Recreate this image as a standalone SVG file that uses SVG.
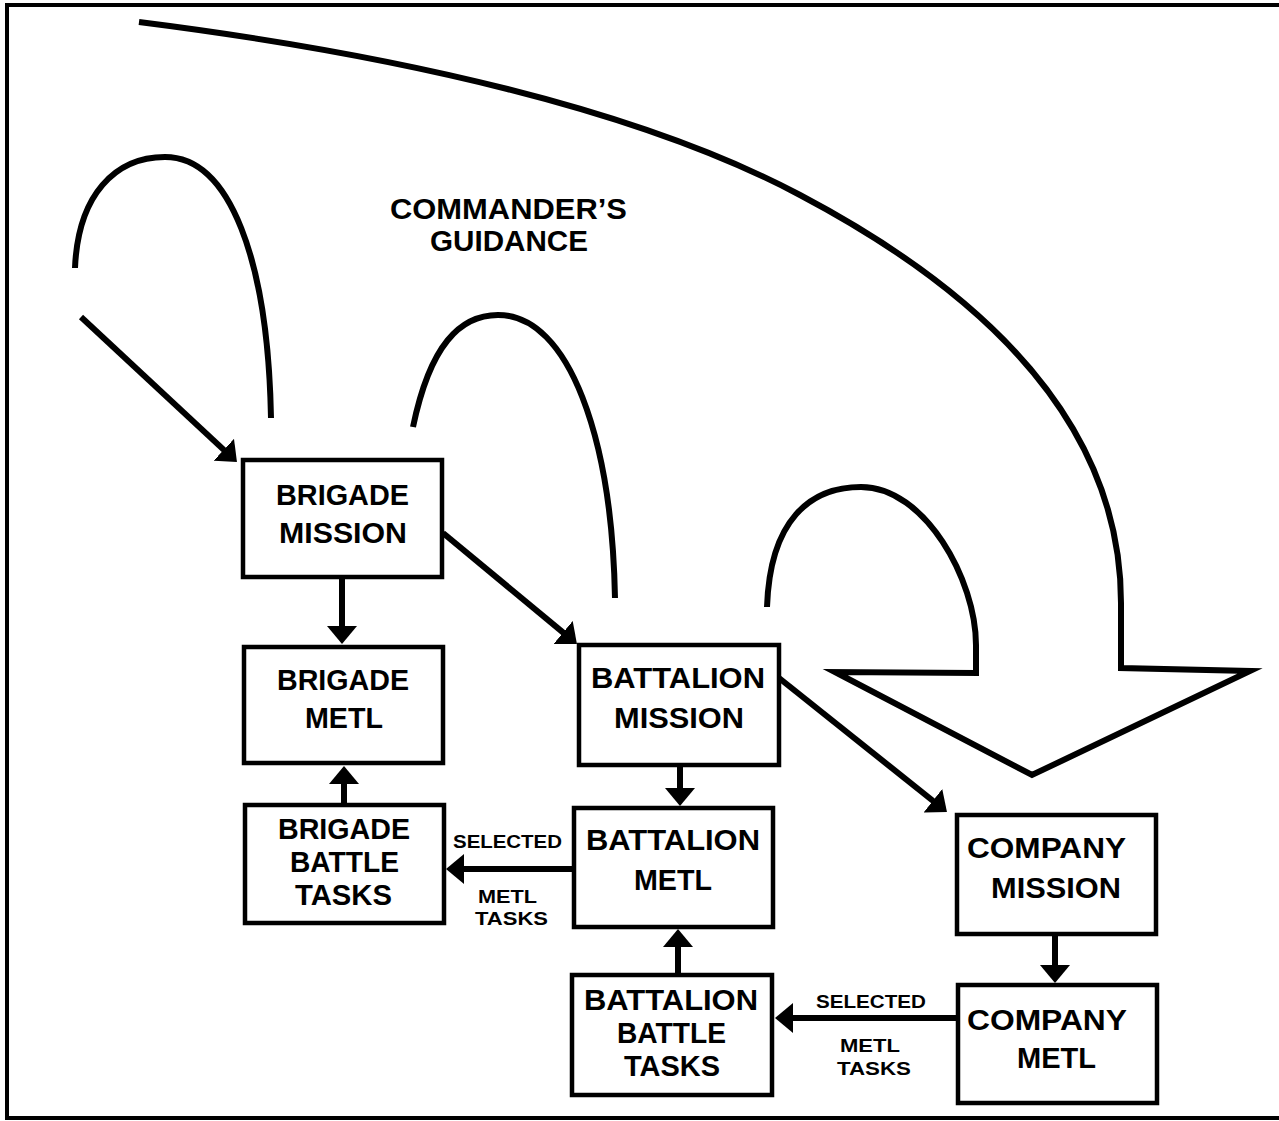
<svg xmlns="http://www.w3.org/2000/svg" width="1279" height="1121" viewBox="0 0 1279 1121">
<style>
.bg{fill:#fff}
.frame{fill:none;stroke:#000;stroke-width:4}
.box{fill:#fff;stroke:#000;stroke-width:4.5}
.cv{fill:none;stroke:#000;stroke-width:6;stroke-linejoin:miter;stroke-miterlimit:10}
.ln{fill:none;stroke:#000;stroke-width:6;marker-end:url(#ah)}
text{font-family:"Liberation Sans","Open Sans",sans-serif;font-weight:700;fill:#000;text-anchor:middle}
.t{font-size:29px}
.s{font-size:18.5px}
</style>
<defs>
<marker id="ah" markerUnits="userSpaceOnUse" markerWidth="18" markerHeight="30" refX="10" refY="15" orient="auto" viewBox="0 0 18 30">
<path d="M0,0 L18,15 L0,30 z" fill="#000"/>
</marker>
</defs>
<rect class="bg" x="0" y="0" width="1279" height="1121"/>
<path class="frame" d="M1279,5 L7,5 L7,1118 L1279,1118"/>

<g id="guidance-arcs">
<path class="cv" d="M75,268 C78,195 115,157 165,157 C230,157 268,260 271,418"/>
<path class="cv" d="M413,427 C430,345 460,315 498,315 C570,315 612,440 615,598"/>
<path class="cv" d="M139,22 C400,55 640,110 800,195 C980,290 1121,420 1121,603 L1121,668 L1250,671 L1032,775 L835,672 L976,673 L976,645 C976,580 925,487 861,487 C810,487 770,520 767,607"/>
</g>
<g id="guidance-label">
<text class="t" x="508.5" y="219" textLength="237" lengthAdjust="spacingAndGlyphs">COMMANDER’S</text>
<text class="t" x="509" y="251" textLength="158" lengthAdjust="spacingAndGlyphs">GUIDANCE</text>
</g>

<g id="connectors">
<line class="ln" x1="81" y1="317" x2="231.1" y2="456.6"/>
<line class="ln" x1="443" y1="533" x2="570.8" y2="638.9"/>
<line class="ln" x1="779" y1="678" x2="940.7" y2="807"/>
<line class="ln" x1="342" y1="579" x2="342" y2="636"/>
<line class="ln" x1="344" y1="803" x2="344" y2="774"/>
<line class="ln" x1="680" y1="765" x2="680" y2="798"/>
<line class="ln" x1="678" y1="973" x2="678" y2="937"/>
<line class="ln" x1="1055" y1="935" x2="1055" y2="975"/>
<line class="ln" x1="574" y1="869" x2="454" y2="869"/>
<line class="ln" x1="956" y1="1018" x2="783" y2="1018"/>
<text class="s" x="507.5" y="848" textLength="109" lengthAdjust="spacingAndGlyphs">SELECTED</text>
<text class="s" x="507.5" y="903" textLength="59" lengthAdjust="spacingAndGlyphs">METL</text>
<text class="s" x="511.5" y="925" textLength="73" lengthAdjust="spacingAndGlyphs">TASKS</text>
<text class="s" x="871" y="1008" textLength="110" lengthAdjust="spacingAndGlyphs">SELECTED</text>
<text class="s" x="870" y="1052" textLength="60" lengthAdjust="spacingAndGlyphs">METL</text>
<text class="s" x="874" y="1075" textLength="74" lengthAdjust="spacingAndGlyphs">TASKS</text>
</g>

<g id="brigade-mission">
<rect class="box" x="243" y="460" width="199" height="117"/>
<text class="t" x="342.5" y="505" textLength="133" lengthAdjust="spacingAndGlyphs">BRIGADE</text>
<text class="t" x="343" y="543" textLength="128" lengthAdjust="spacingAndGlyphs">MISSION</text>
</g>
<g id="brigade-metl">
<rect class="box" x="244" y="647" width="199" height="116"/>
<text class="t" x="343" y="690" textLength="132" lengthAdjust="spacingAndGlyphs">BRIGADE</text>
<text class="t" x="344" y="728" textLength="78" lengthAdjust="spacingAndGlyphs">METL</text>
</g>
<g id="brigade-battle-tasks">
<rect class="box" x="245" y="805" width="199" height="118"/>
<text class="t" x="344" y="839" textLength="132" lengthAdjust="spacingAndGlyphs">BRIGADE</text>
<text class="t" x="344.5" y="872" textLength="109" lengthAdjust="spacingAndGlyphs">BATTLE</text>
<text class="t" x="343.5" y="905" textLength="97" lengthAdjust="spacingAndGlyphs">TASKS</text>
</g>
<g id="battalion-mission">
<rect class="box" x="579" y="645" width="200" height="120"/>
<text class="t" x="678" y="688" textLength="174" lengthAdjust="spacingAndGlyphs">BATTALION</text>
<text class="t" x="679" y="728" textLength="130" lengthAdjust="spacingAndGlyphs">MISSION</text>
</g>
<g id="battalion-metl">
<rect class="box" x="574" y="808" width="199" height="119"/>
<text class="t" x="673" y="850" textLength="174" lengthAdjust="spacingAndGlyphs">BATTALION</text>
<text class="t" x="673" y="890" textLength="78" lengthAdjust="spacingAndGlyphs">METL</text>
</g>
<g id="battalion-battle-tasks">
<rect class="box" x="572" y="975" width="200" height="120"/>
<text class="t" x="671" y="1010" textLength="174" lengthAdjust="spacingAndGlyphs">BATTALION</text>
<text class="t" x="671.5" y="1043" textLength="109" lengthAdjust="spacingAndGlyphs">BATTLE</text>
<text class="t" x="672" y="1076" textLength="96" lengthAdjust="spacingAndGlyphs">TASKS</text>
</g>
<g id="company-mission">
<rect class="box" x="957" y="815" width="199" height="119"/>
<text class="t" x="1046.5" y="858" textLength="159" lengthAdjust="spacingAndGlyphs">COMPANY</text>
<text class="t" x="1056" y="898" textLength="130" lengthAdjust="spacingAndGlyphs">MISSION</text>
</g>
<g id="company-metl">
<rect class="box" x="958" y="985" width="199" height="118"/>
<text class="t" x="1047" y="1030" textLength="160" lengthAdjust="spacingAndGlyphs">COMPANY</text>
<text class="t" x="1056.5" y="1068" textLength="79" lengthAdjust="spacingAndGlyphs">METL</text>
</g>
</svg>
